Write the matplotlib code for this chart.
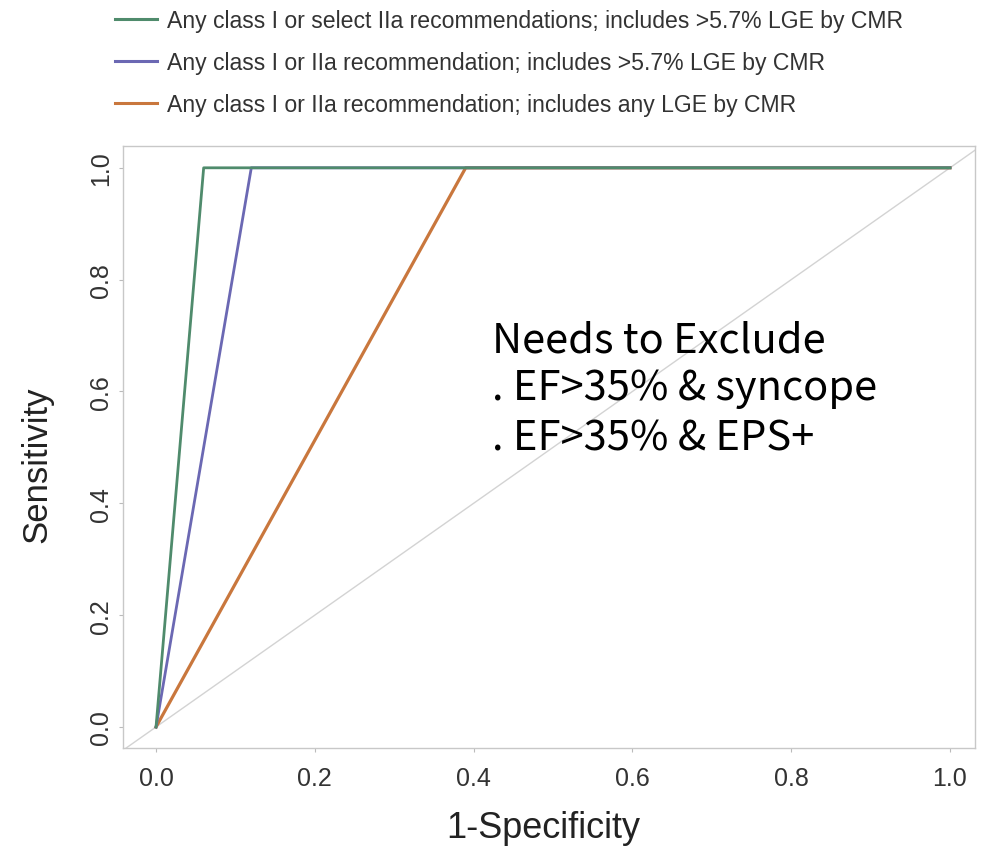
import matplotlib
matplotlib.use("Agg")
import matplotlib.pyplot as plt
from matplotlib.lines import Line2D

# Data
labels = [
    "Any class I or select IIa recommendations; includes >5.7% LGE by CMR",
    "Any class I or IIa recommendation; includes >5.7% LGE by CMR",
    "Any class I or IIa recommendation; includes any LGE by CMR",
]
fpr_green = [0.0, 0.06, 1.0]
tpr_green = [0.0, 1.0, 1.0]
fpr_purple = [0.0, 0.12, 1.0]
tpr_purple = [0.0, 1.0, 1.0]
fpr_orange = [0.0, 0.39, 1.0]
tpr_orange = [0.0, 1.0, 1.0]
xticks = [0.0, 0.2, 0.4, 0.6, 0.8, 1.0]
yticks = [0.0, 0.2, 0.4, 0.6, 0.8, 1.0]
colors = ["#4f8b6c", "#6b68b3", "#c9773d"]
note_lines = ["Needs to Exclude", ". EF>35% & syncope", ". EF>35% & EPS+"]
note_baselines = [0.671, 0.587, 0.497]

SANS = ["Liberation Sans", "DejaVu Sans"]

fig = plt.figure(figsize=(9.86, 8.53), dpi=100)
ax = fig.add_axes([123 / 986, 1 - 749 / 853, 852 / 986, 602 / 853])

ax.plot([-0.2, 1.2], [-0.2, 1.2], color="#d3d3d3", lw=1.0, zorder=1)
ax.plot(fpr_orange, tpr_orange, color=colors[2], lw=2.3, zorder=2)
ax.plot(fpr_purple, tpr_purple, color=colors[1], lw=2.0, zorder=3)
ax.plot(fpr_green, tpr_green, color=colors[0], lw=2.0, zorder=4)

ax.set_xlim(-0.0416, 1.0315)
ax.set_ylim(-0.0376, 1.039)
ax.set_xticks(xticks)
ax.set_yticks(yticks)
ax.set_xticklabels([f"{v:.1f}" for v in xticks], family=SANS)
ax.set_yticklabels([f"{v:.1f}" for v in yticks], rotation=90, va="center", family=SANS)
ax.tick_params(colors="#bbbbbb", labelcolor="#333333", labelsize=18, length=3, width=0.8)
ax.tick_params(axis="x", pad=10)
ax.tick_params(axis="y", pad=4)
for s in ax.spines.values():
    s.set_color("#c8c8c8")
    s.set_linewidth(1.0)

ax.set_xlabel("1-Specificity", fontsize=26, color="#222222", family=SANS)
ax.set_ylabel("Sensitivity", fontsize=25, color="#222222", family=SANS)
ax.xaxis.set_label_coords(0.493, -0.103)
ax.yaxis.set_label_coords(-0.082, 0.472)

for line, yb in zip(note_lines, note_baselines):
    ax.text(0.423, yb, line, fontsize=30, color="black", va="baseline", ha="left",
            family=["Noto Sans CJK KR", "DejaVu Sans"])

handles = [Line2D([0], [0], color=c, lw=2.2) for c in colors]
fig.legend(handles, labels, loc="upper left", bbox_to_anchor=(115 / 986, 1 - 10 / 853),
           frameon=False, prop={"family": SANS, "size": 16.6}, handlelength=1.8,
           handletextpad=0.45, labelspacing=0.82, borderpad=0, borderaxespad=0,
           labelcolor="#333333")

fig.savefig("out.png", dpi=100)
